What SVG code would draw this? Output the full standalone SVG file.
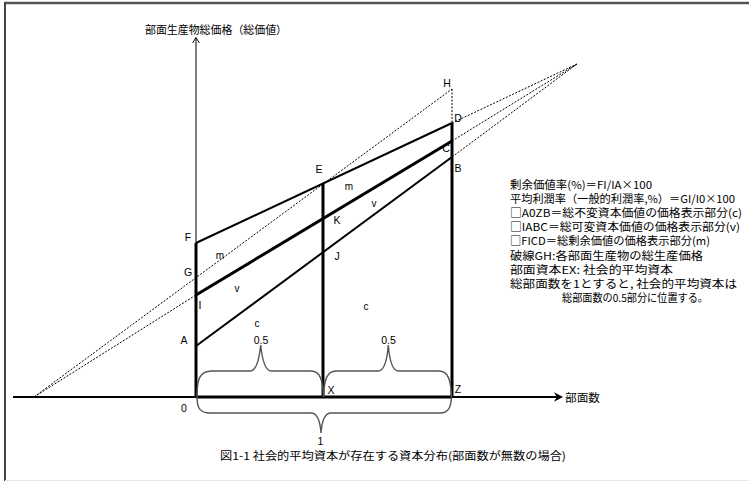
<svg xmlns="http://www.w3.org/2000/svg" width="749" height="481" viewBox="0 0 749 481">
<style>
.jp{font-family:"Noto Sans CJK JP","Liberation Sans",sans-serif;font-size:11px;fill:#000}
.lb{font-family:"Liberation Sans",Arial,sans-serif;font-size:10.5px;fill:#000;text-anchor:middle}
.sm{font-family:"Liberation Sans",Arial,sans-serif;font-size:10px;fill:#000;text-anchor:middle}
.solid{stroke:#000;fill:none}
.dot{stroke:#000;stroke-width:1;stroke-dasharray:2 1.5;fill:none}
.brace{stroke:#555;stroke-width:1.4;fill:none}
</style>
<rect x="0" y="0" width="749" height="481" fill="#fff"/>
<g id="frame">
<line x1="4" y1="3" x2="749" y2="3" stroke="#555" stroke-width="2.5"/>
<line x1="5" y1="2" x2="5" y2="481" stroke="#444" stroke-width="2"/>
<line x1="5" y1="480.5" x2="749" y2="480.5" stroke="#e6e6e6" stroke-width="1"/>
</g>
<g id="connectors">
<g id="dotted">
<path class="dot" d="M34,397 L452,89"/>
<path class="dot" d="M34,397 L196,295"/>
<path class="dot" d="M452,123 L577,64"/>
<path class="dot" d="M452,141 L577,64"/>
<path class="dot" d="M452,157 L577,64"/>
<path class="dot" d="M452,89 L452,123"/>
</g>
<g id="axes">
<path class="solid" stroke-width="2" d="M13,397 H557"/>
<path fill="#000" d="M563,397 L554,392.2 L556.8,397 L554,401.8 Z"/>
<path class="solid" stroke-width="1" d="M196,243 V38"/>
<path class="solid" stroke-width="1" d="M192.6,43 L196,37.5 L199.4,43"/>
</g>
<g id="lines">
<path class="solid" stroke-width="2" d="M196,243 L452,123"/>
<path class="solid" stroke-width="3" d="M196,295 L452,141"/>
<path class="solid" stroke-width="2" d="M196,346 L452,157"/>
<path class="solid" stroke-width="3" d="M196,398 V243"/>
<path class="solid" stroke-width="3" d="M323,183 V397"/>
<path class="solid" stroke-width="3" d="M452,123 V398"/>
<path class="solid" stroke-width="3" d="M196,397 H452"/>
</g>
<g id="braces">
<path class="brace" d="M197,397 C197,380 199,371 212,371 L250,371 C256,371 259,362 260.7,345 C262.4,362 265.4,371 271.4,371 L311,371 C320,371 323,380 323.5,397"/>
<path class="brace" d="M323.5,397 C324,380 327,371 336,371 L378,371 C384,371 387,362 388.3,345 C389.6,362 392.6,371 398.6,371 L439,371 C448,371 451,380 451.5,397"/>
<path class="brace" d="M197,397 C197,408 200,413 210,413 L311,413 C317,413 320,419 321,433 C322,419 325,413 331,413 L440,413 C448,413 451,408 451.5,397"/>
</g>
</g>
<g id="labels">
<text class="lb" x="188" y="241">F</text>
<text class="lb" x="188" y="276">G</text>
<text class="lb" x="200" y="309">I</text>
<text class="lb" x="184" y="344">A</text>
<text class="lb" x="184" y="412">0</text>
<text class="lb" x="319" y="173">E</text>
<text class="lb" x="337" y="224">K</text>
<text class="lb" x="337" y="260">J</text>
<text class="lb" x="331" y="394">X</text>
<text class="lb" x="447" y="87">H</text>
<text class="lb" x="458" y="122">D</text>
<text class="lb" x="446" y="152">C</text>
<text class="lb" x="458" y="172">B</text>
<text class="lb" x="458" y="393">Z</text>
<text class="sm" x="220" y="259">m</text>
<text class="sm" x="349" y="190">m</text>
<text class="sm" x="237" y="292">v</text>
<text class="sm" x="374" y="207">v</text>
<text class="sm" x="257" y="327">c</text>
<text class="sm" x="366" y="310">c</text>
<text class="lb" x="261" y="343.5" font-size="11">0.5</text>
<text class="lb" x="388.5" y="343.5" font-size="11">0.5</text>
<text class="lb" x="320.5" y="445" font-size="10">1</text>
</g>
<g id="titles">
<text class="jp" x="145" y="33.5" font-size="12" textLength="142" lengthAdjust="spacingAndGlyphs">部面生産物総価格（総価値）</text>
<text class="jp" x="565" y="401.5" font-size="12" textLength="35" lengthAdjust="spacingAndGlyphs">部面数</text>
<text class="jp" x="220" y="460" font-size="11.5" textLength="346" lengthAdjust="spacingAndGlyphs">図1-1  社会的平均資本が存在する資本分布(部面数が無数の場合)</text>
</g>
<g id="legend">
<text class="jp" x="510" y="189" textLength="142" lengthAdjust="spacingAndGlyphs">剰余価値率(%)＝FI/IA×100</text>
<text class="jp" x="510" y="203.1" textLength="225" lengthAdjust="spacingAndGlyphs">平均利潤率（一般的利潤率,%）＝GI/I0×100</text>
<text class="jp" x="510" y="217.2" textLength="232" lengthAdjust="spacingAndGlyphs">□A0ZB＝総不変資本価値の価格表示部分(c)</text>
<text class="jp" x="510" y="231.3" textLength="230" lengthAdjust="spacingAndGlyphs">□IABC＝総可変資本価値の価格表示部分(v)</text>
<text class="jp" x="510" y="245.4" textLength="200" lengthAdjust="spacingAndGlyphs">□FICD＝総剰余価値の価格表示部分(m)</text>
<text class="jp" x="510" y="259.5" textLength="193" lengthAdjust="spacingAndGlyphs">破線GH:各部面生産物の総生産価格</text>
<text class="jp" x="510" y="273.6" textLength="163" lengthAdjust="spacingAndGlyphs">部面資本EX: 社会的平均資本</text>
<text class="jp" x="510" y="287.7" textLength="227" lengthAdjust="spacingAndGlyphs">総部面数を1とすると, 社会的平均資本は</text>
<text class="jp" x="562" y="301.8" textLength="146" lengthAdjust="spacingAndGlyphs">総部面数の0.5部分に位置する。</text>
</g>
</svg>
